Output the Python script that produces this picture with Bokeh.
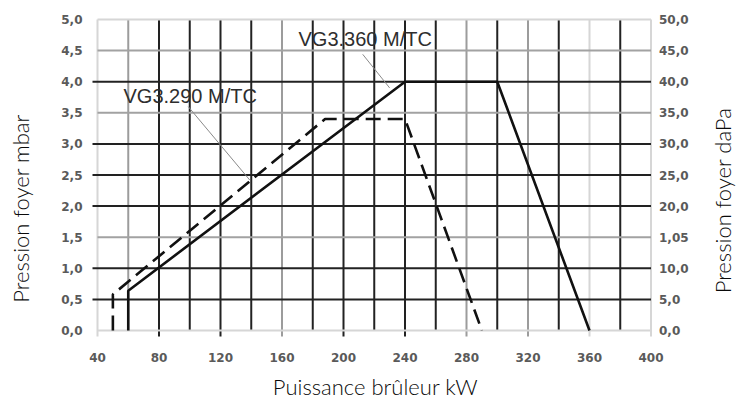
import math
from bokeh.plotting import figure
from bokeh.models import Range1d
from bokeh.core.properties import value
from bokeh.embed import file_html
from bokeh.resources import INLINE

# ---- data ----
x_ticks = [40, 80, 120, 160, 200, 240, 280, 320, 360, 400]
x_tick_labels = ["40", "80", "120", "160", "200", "240", "280", "320", "360", "400"]
y_ticks = [0.0, 0.5, 1.0, 1.5, 2.0, 2.5, 3.0, 3.5, 4.0, 4.5, 5.0]
y_left_labels = ["0,0", "0,5", "1,0", "1,5", "2,0", "2,5", "3,0", "3,5", "4,0", "4,5", "5,0"]
y_right_labels = ["0,0", "5,0", "10,0", "1,05", "20,0", "25,0", "30,0", "35,0", "40,0", "45,0", "50,0"]

# grid lines (kW / mbar) grouped by shade
vgrid_light = [40, 360, 400]
vgrid_mid = [60, 160, 280, 320]
vgrid_dark = [80, 100, 120, 140, 180, 200, 220, 240, 260, 300, 340, 380]
hgrid_light = [0.0, 5.0]
hgrid_mid = [1.5, 3.5, 4.5]
hgrid_dark = [0.5, 1.0, 2.0, 2.5, 3.0, 4.0]

# VG3.360 M/TC (solid)
vg360_kw = [60, 60, 240, 300, 360]
vg360_mbar = [0.0, 0.64, 4.0, 4.0, 0.0]
# VG3.290 M/TC (dashed)
vg290_kw = [50, 50, 188, 240, 290]
vg290_mbar = [0.0, 0.58, 3.4, 3.4, 0.0]

label_text = ["VG3.290 M/TC", "VG3.360 M/TC"]
leader_kw0 = [99, 212.5]
leader_mbar0 = [3.6, 4.44]
leader_kw1 = [139, 230]
leader_mbar1 = [2.42, 3.9]

x_title = "Puissance brûleur kW"
y_left_title = "Pression foyer mbar"
y_right_title = "Pression foyer daPa"

# ---- layout (pixels) ----
W, H = 736, 400
PX_X40, PX_X400 = 97.0, 650.5      # chart area inside the canvas
PX_Y0, PX_Y5 = 330.0, 19.0
sx = (PX_X400 - PX_X40) / (x_ticks[-1] - x_ticks[0])
sy = (PX_Y0 - PX_Y5) / (y_ticks[-1] - y_ticks[0])
x_start = x_ticks[0] - PX_X40 / sx
x_end = x_start + W / sx
y_start = y_ticks[0] - (H - PX_Y0) / sy
y_end = y_start + H / sy


def px_x(px):
    return x_start + px / sx


def px_y(py):
    return y_start + (H - py) / sy


p = figure(width=W, height=H, x_range=Range1d(x_start, x_end), y_range=Range1d(y_start, y_end),
           x_axis_type=None, y_axis_type=None, min_border=0,
           output_backend="svg", toolbar_location=None)
p.outline_line_color = None
p.background_fill_color = "white"
p.border_fill_color = "white"

ymin, ymax = y_ticks[0], y_ticks[-1]
xmin, xmax = x_ticks[0], x_ticks[-1]
tick_ext_y = 6 / sy   # tick marks below the labelled verticals
tick_ext_x = 5 / sx   # tick marks left of the dark horizontals

for vals, col in [(vgrid_light, "#d6d6d6"), (vgrid_mid, "#9c9c9c"), (vgrid_dark, "#222222")]:
    y0 = [ymin - (tick_ext_y if v in x_ticks else 0) for v in vals]
    p.segment(x0=vals, y0=y0, x1=vals, y1=[ymax] * len(vals),
              line_color=col, line_width=2, line_cap="butt")
for vals, col in [(hgrid_light, "#d6d6d6"), (hgrid_mid, "#a2a2a2"), (hgrid_dark, "#222222")]:
    x0 = [xmin - (tick_ext_x if col == "#222222" else 0) for v in vals]
    p.segment(x0=x0, y0=vals, x1=[xmax] * len(vals), y1=vals,
              line_color=col, line_width=2, line_cap="butt")

# curves
p.line(vg360_kw, vg360_mbar, line_color="#111111", line_width=2.6)
p.line(vg290_kw, vg290_mbar, line_color="#111111", line_width=2.6, line_dash="15 7")

# leaders and curve labels
p.segment(x0=leader_kw0, y0=leader_mbar0, x1=leader_kw1, y1=leader_mbar1,
          line_color="#8a8a8a", line_width=1)
p.text(x=[px_x(123), px_x(298)], y=[px_y(95), px_y(38)], text=label_text,
       text_font=value("Liberation Sans"), text_font_size="20px", text_color="#2e2e2e",
       text_align="left", text_baseline="middle")

# tick labels (through the data scales)
tick_font = value("DejaVu Sans")
p.text(x=x_ticks, y=[ymin] * len(x_ticks), text=x_tick_labels, y_offset=27,
       text_font=tick_font, text_font_style="bold", text_font_size="12px", text_color="#5a5a5a",
       text_align="center", text_baseline="middle")
p.text(x=[xmin] * len(y_ticks), y=y_ticks, text=y_left_labels, x_offset=-15,
       text_font=tick_font, text_font_style="bold", text_font_size="12px", text_color="#5a5a5a",
       text_align="right", text_baseline="middle")
p.text(x=[xmax] * len(y_ticks), y=y_ticks, text=y_right_labels, x_offset=8,
       text_font=tick_font, text_font_style="bold", text_font_size="12px", text_color="#5a5a5a",
       text_align="left", text_baseline="middle")

# axis titles
title_font = value("Lato Light, Lato")
p.text(x=[px_x(375)], y=[px_y(386)], text=[x_title], text_font=title_font, text_font_size="22px",
       text_color="#0a0a0a", text_align="center", text_baseline="middle")
p.text(x=[px_x(20), px_x(722)], y=[px_y(208), px_y(200)], text=[y_left_title, y_right_title],
       angle=math.pi / 2, text_font=title_font, text_font_size="22px",
       text_color="#0a0a0a", text_align="center", text_baseline="middle")

open("out.html", "w").write(file_html(p, INLINE))
